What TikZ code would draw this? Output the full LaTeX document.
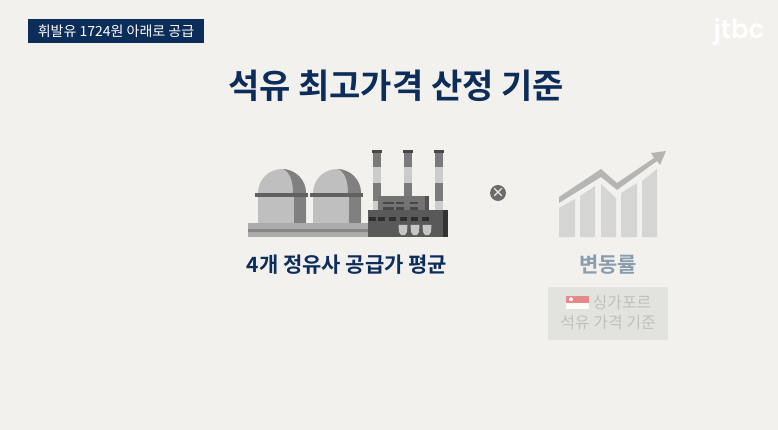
\documentclass[tikz,border=0pt]{standalone}
\usepackage{fontspec}
\setmainfont{Noto Sans CJK KR}[BoldFont={Noto Sans CJK KR Bold}]
\newfontfamily\logofont{Poppins}[BoldFont={Poppins SemiBold}]
\usetikzlibrary{calc}
\definecolor{paperbg}{RGB}{242, 241, 238}
\definecolor{newsnavy}{RGB}{12, 44, 90}
\definecolor{fadedslate}{RGB}{139, 156, 175}
\definecolor{fadedtext}{RGB}{192, 193, 189}
\definecolor{notebox}{RGB}{226, 226, 223}
\definecolor{barfill}{RGB}{213, 214, 211}
\definecolor{trendfill}{RGB}{181, 182, 179}
\definecolor{flagred}{RGB}{224, 112, 112}
\tikzset{
  every node/.style={inner sep=0pt, outer sep=0pt},
  tagbox/.style={fill=newsnavy, text=white, minimum width=176pt, minimum height=24pt, font=\fontsize{14}{16}\selectfont},
  headline/.style={text=newsnavy, font=\fontsize{34}{38}\selectfont\bfseries},
  caption/.style={text=newsnavy, font=\fontsize{21}{24}\selectfont\bfseries},
  fadedcaption/.style={text=fadedslate, font=\fontsize{21}{24}\selectfont\bfseries},
  notetext/.style={text=fadedtext, font=\fontsize{16}{18}\selectfont},
  timesmark/.style={circle, fill=black!58, minimum size=14pt, text=paperbg, font=\fontsize{13}{13}\selectfont\bfseries}
}
\begin{document}
\begin{tikzpicture}[x=1pt, y=-1pt]
  \useasboundingbox (0,0) rectangle (778,430);
  \fill[paperbg] (0,0) rectangle (778,430);

  \node[tagbox] (tag) at (116,31) {휘발유 1724원 아래로 공급};
  \node[text=white, font=\logofont\bfseries\fontsize{26}{26}\selectfont] (logo) at (739,32) {jtbc};
  \node[headline] (title) at (396,86) {석유 최고가격 산정 기준};

  % chimneys
  \foreach \cx in {377,408,439} {
    \fill[black!52] (\cx-4,153) rectangle (\cx+4,167);
    \fill[black!20] (\cx-4,167) rectangle (\cx+4,183);
    \fill[black!52] (\cx-4,183) rectangle (\cx+4,201);
    \fill[black!20] (\cx-4,201) rectangle (\cx+4,211);
    \fill[black!72] (\cx-5,150) rectangle (\cx+5,153);
  }
  % domes
  \foreach \dx in {258,313} {
    \fill[black!25] (\dx,197) -- (\dx,193) arc[start angle=180, end angle=360, x radius=24, y radius=24] -- (\dx+48,197) -- (\dx+48,223) -- (\dx,223) -- cycle;
    \fill[black!50] (\dx+36,197) rectangle (\dx+48,223);
    \fill[black!50] (\dx+35,193) .. controls (\dx+35,181) and (\dx+32,172) .. (\dx+25,169) .. controls (\dx+38,170) and (\dx+48,180) .. (\dx+48,193) -- cycle;
    \fill[black!62] (\dx-3,193) rectangle (\dx+50,197);
  }
  % base slab
  \fill[black!33] (248,223) rectangle (378,237);
  \fill[black!48] (248,229) rectangle (373,232);
  % factory
  \fill[black!55] (378,196) rectangle (429,210);
  \fill[black!68] (425,196) rectangle (429,210);
  \fill[black!65] (368,210) rectangle (448,237);
  \fill[black!80] (443,210) rectangle (448,237);
  \foreach \wx/\ww in {383/11,396/8,410/8} {
    \fill[black!72] (\wx,202) rectangle (\wx+\ww,204);
    \fill[black!72] (\wx,207) rectangle (\wx+\ww,210);
  }
  \foreach \wx in {368,377,388,399,410,421} {
    \fill[black!82] (\wx+1,217) rectangle (\wx+8,221);
  }
  \foreach \hx in {403,415,427} {
    \fill[black!22] (\hx-4.5,225) -- (\hx+4.5,225) -- (\hx+4,232) -- (\hx+2,235) -- (\hx-2,235) -- (\hx-4,232) -- cycle;
  }

  \node[timesmark] (times) at (498,193) {×};

  % bars of the chart
  \fill[barfill] (559,208) -- (575,199) -- (575,237) -- (559,237) -- cycle;
  \fill[barfill] (580,196) -- (595,186) -- (595,237) -- (580,237) -- cycle;
  \fill[barfill] (601,184) -- (616,198) -- (616,237) -- (601,237) -- cycle;
  \fill[barfill] (621,193) -- (637,183) -- (637,237) -- (621,237) -- cycle;
  \fill[barfill] (642,181) -- (657,169) -- (657,237) -- (642,237) -- cycle;
  \fill[trendfill] (559,197) -- (601,169) -- (617,183) -- (654,158) -- (651,153) -- (666,151) -- (660,165) -- (657,161) -- (617,190) -- (601,177) -- (559,203) -- cycle;

  \node[caption] (supply) at (347,265) {4개 정유사 공급가 평균};
  \node[fadedcaption] (rate) at (608,265) {변동률};

  \fill[notebox] (548,287) rectangle (668,340);
  \fill[flagred!80!paperbg] (566,296) rectangle (589,302.5);
  \fill[white!70!paperbg] (566,302.5) rectangle (589,309);
  \fill[white!70!paperbg] (571,299.2) circle[radius=2];
  \node[notetext] (notea) at (622,302) {싱가포르};
  \node[notetext] (noteb) at (608,323) {석유 가격 기준};
\end{tikzpicture}
\end{document}
